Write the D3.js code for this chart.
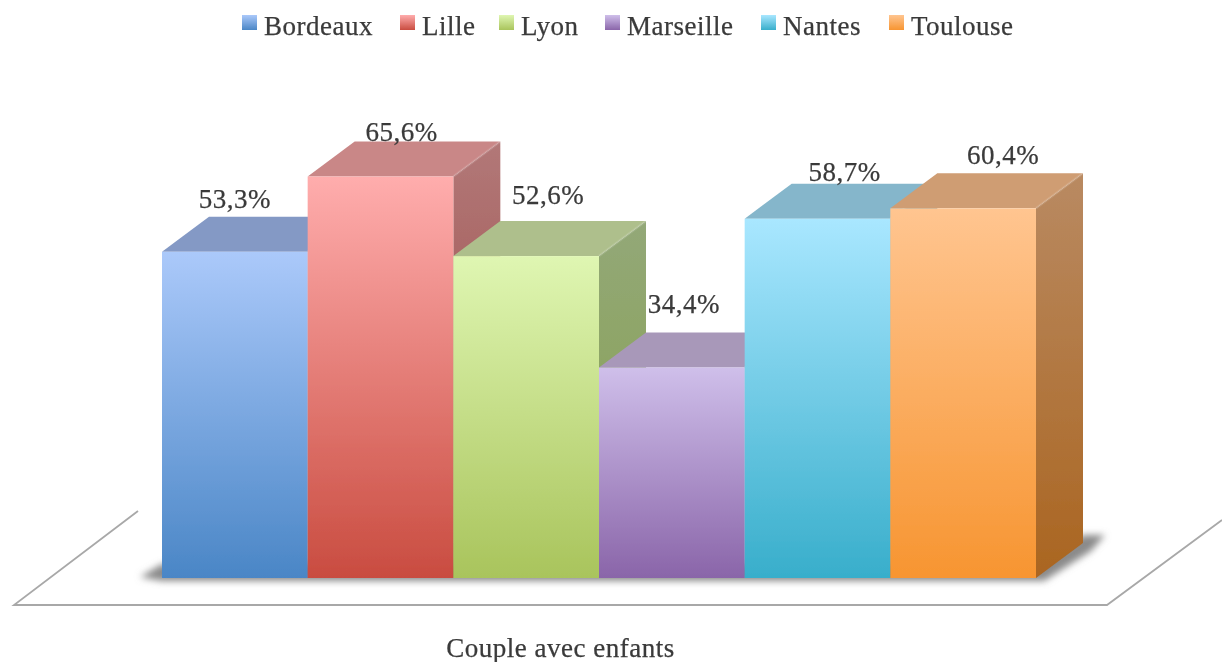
<!DOCTYPE html>
<html>
<head>
<meta charset="utf-8">
<script src="https://cdn.jsdelivr.net/npm/d3@7/dist/d3.min.js"></script>
<style>
  html, body { margin: 0; padding: 0; background: #fff; }
  svg { display: block; }
  text { font-family: "Liberation Serif", serif; fill: #3a3a3a; stroke: #3a3a3a; stroke-width: 0.25; letter-spacing: 0.5px; }
</style>
</head>
<body>
<div id="chart"></div>
<script>
const categories = ['Couple avec enfants'];
const cities = ['Bordeaux', 'Lille', 'Lyon', 'Marseille', 'Nantes', 'Toulouse'];
const values = [53.3, 65.6, 52.6, 34.4, 58.7, 60.4];
const valueLabels = ['53,3%', '65,6%', '52,6%', '34,4%', '58,7%', '60,4%'];

const frontTop = ['#abc9fa', '#ffadad', '#dff6b2', '#cfbfea', '#a9e7ff', '#ffc590'];
const frontBottom = ['#4a86c6', '#c94c40', '#a9c45c', '#8a65a9', '#38aecb', '#f79531'];
const topFace = ['#8499c5', '#c98787', '#aebf8c', '#a898b9', '#85b6cb', '#cf9d73'];
const sideTop = ['#7f93bd', '#b27878', '#93a878', '#9585a8', '#73a3b8', '#b98a62'];
const sideBottom = ['#3a6a9e', '#96403a', '#86a04a', '#6c5288', '#2e8aa2', '#aa6520'];

const width = 1222;
const height = 662;
const depthX = 47;
const depthY = 35;

const legendX = [242, 400, 499, 605, 761, 889];
const labelNudge = [[0, -44], [21, -36], [22, -52], [12, -54], [27, -38], [40, -44]];

const svg = d3.select('#chart')
  .append('svg')
  .attr('width', width)
  .attr('height', height);

const defs = svg.append('defs');
defs.append('filter').attr('id', 'soft')
  .attr('x', '-5%').attr('y', '-5%').attr('width', '110%').attr('height', '110%')
  .append('feGaussianBlur').attr('stdDeviation', 0.6);
defs.append('filter').attr('id', 'textSoft')
  .attr('x', '-10%').attr('y', '-20%').attr('width', '120%').attr('height', '140%')
  .append('feGaussianBlur').attr('stdDeviation', 0.45);
defs.append('filter').attr('id', 'shadow')
  .attr('x', '-5%').attr('y', '-30%').attr('width', '110%').attr('height', '160%')
  .append('feGaussianBlur').attr('stdDeviation', 3.5);

cities.forEach((c, i) => {
  const front = defs.append('linearGradient').attr('id', `front${i}`)
    .attr('x1', 0).attr('y1', 0).attr('x2', 0).attr('y2', 1);
  front.append('stop').attr('offset', 0).attr('stop-color', frontTop[i]);
  front.append('stop').attr('offset', 1).attr('stop-color', frontBottom[i]);
  const side = defs.append('linearGradient').attr('id', `side${i}`)
    .attr('x1', 0).attr('y1', 0).attr('x2', 0).attr('y2', 1);
  side.append('stop').attr('offset', 0).attr('stop-color', sideTop[i]);
  side.append('stop').attr('offset', 1).attr('stop-color', sideBottom[i]);
});

const x = d3.scaleBand().domain(cities).range([162, 1036]);
const y = d3.scaleLinear().domain([0, 100]).range([578, -34]);

// floor of the 3d plot
const floorLine = d3.line();
svg.append('path')
  .attr('d', floorLine([[138, 511], [14, 605], [1107, 605], [1222, 520]]))
  .attr('fill', 'none')
  .attr('stroke', '#a8a8a8')
  .attr('stroke-width', 1.8)
  .attr('filter', 'url(#soft)');

// shadow under the bars
const x0 = x.range()[0];
const x1 = x.range()[1];
const y0 = y(0);
svg.append('path')
  .attr('d', floorLine([
    [x0 - 22, y0 - 1], [x0, y0 - 14], [x1, y0 - 14],
    [x1 + depthX, y0 - depthY - 8], [x1 + depthX + 22, y0 - depthY - 8],
    [x1 + depthX + 8, y0 - depthY + 8], [x1 + 8, y0 + 3], [x0, y0 + 3]
  ]) + 'Z')
  .attr('fill', '#8a8a8a')
  .attr('filter', 'url(#shadow)');

const plot = svg.append('g').attr('filter', 'url(#soft)');

const bars = plot.selectAll('.bar')
  .data(cities)
  .enter()
  .append('g')
  .attr('class', 'bar');

// top face
bars.append('path')
  .attr('d', (d, i) => {
    const l = x(d), r = l + x.bandwidth(), t = y(values[i]);
    return floorLine([[l, t], [l + depthX, t - depthY], [r + depthX, t - depthY], [r, t]]) + 'Z';
  })
  .attr('fill', (d, i) => topFace[i]);

// side face
bars.append('path')
  .attr('d', (d, i) => {
    const r = x(d) + x.bandwidth(), t = y(values[i]);
    return floorLine([[r, t], [r + depthX, t - depthY], [r + depthX, y0 - depthY], [r, y0]]) + 'Z';
  })
  .attr('fill', (d, i) => `url(#side${i})`);

// light bevel where top and side meet
bars.append('path')
  .attr('d', (d, i) => {
    const r = x(d) + x.bandwidth(), t = y(values[i]);
    return floorLine([[r, t], [r + depthX, t - depthY]]);
  })
  .attr('stroke', '#fff')
  .attr('stroke-opacity', 0.12)
  .attr('stroke-width', 2.5);

// front face
bars.append('rect')
  .attr('x', (d) => x(d))
  .attr('y', (d, i) => y(values[i]))
  .attr('width', x.bandwidth())
  .attr('height', (d, i) => y0 - y(values[i]))
  .attr('fill', (d, i) => `url(#front${i})`);

// value labels
svg.selectAll('.value-label')
  .data(valueLabels)
  .enter()
  .append('text')
  .attr('class', 'value-label')
  .attr('x', (d, i) => x(cities[i]) + x.bandwidth() / 2 + labelNudge[i][0])
  .attr('y', (d, i) => y(values[i]) + labelNudge[i][1])
  .attr('text-anchor', 'middle')
  .attr('font-size', 27)
  .attr('filter', 'url(#textSoft)')
  .text((d) => d);

// category axis, centred on the floor rather than the bars
const xCat = d3.scaleBand().domain(categories).range([14, 1107]);
const axis = svg.append('g')
  .attr('transform', 'translate(0,638)')
  .call(d3.axisBottom(xCat).tickSize(0).tickPadding(0));
axis.select('.domain').remove();
axis.selectAll('text')
  .attr('font-size', 27)
  .attr('font-family', '"Liberation Serif", serif')
  .attr('filter', 'url(#textSoft)')
  .style('fill', '#3a3a3a');

// legend
const legend = svg.selectAll('.legend')
  .data(cities)
  .enter()
  .append('g')
  .attr('class', 'legend')
  .attr('transform', (d, i) => `translate(${legendX[i]},0)`);

legend.append('rect')
  .attr('x', 0)
  .attr('y', 15)
  .attr('width', 15)
  .attr('height', 15)
  .attr('fill', (d, i) => `url(#front${i})`)
  .attr('filter', 'url(#soft)');

legend.append('text')
  .attr('x', 22)
  .attr('y', 35)
  .attr('font-size', 27)
  .attr('filter', 'url(#textSoft)')
  .text((d) => d);
</script>
</body>
</html>
